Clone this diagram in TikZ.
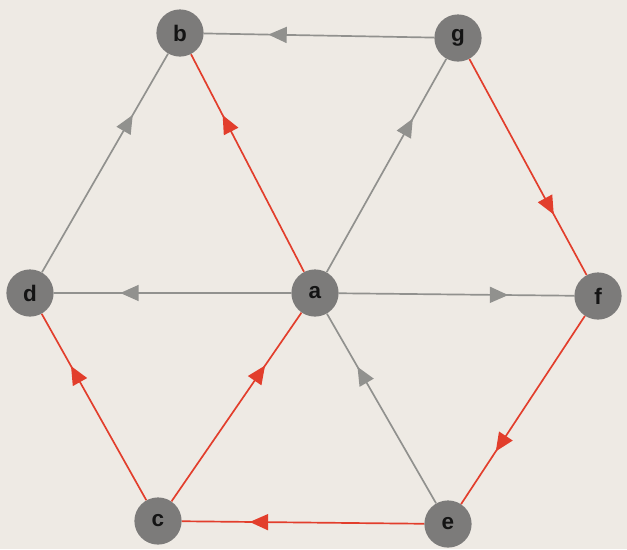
\documentclass[tikz,border=0pt]{standalone}
\usepackage{fontspec}
\setmainfont{Liberation Sans}
\usetikzlibrary{arrows.meta,decorations.markings}
\definecolor{bg}{RGB}{238,234,228}
\definecolor{nodegray}{RGB}{124,123,122}
\definecolor{edgegray}{RGB}{145,145,142}
\definecolor{edgered}{RGB}{226,62,44}
\definecolor{txt}{RGB}{20,20,20}
\tikzset{
  vtx/.style={circle, fill=nodegray, draw=none, minimum size=1.18cm, inner sep=0pt,
    font=\bfseries\fontsize{16}{16}\selectfont, text=txt},
  midarrow/.style={postaction={decorate}, decoration={markings,
    mark=at position 0.72 with {\arrow{Triangle[length=0.46cm,width=0.4cm]}}}},
  gedge/.style={draw=edgegray, line width=1.2pt, midarrow, color=edgegray},
  redge/.style={draw=edgered, line width=1.2pt, midarrow, color=edgered},
}
\begin{document}
\begin{tikzpicture}[x=0.025cm,y=-0.025cm]
\fill[bg] (0,0) rectangle (627,549);
\useasboundingbox (0,0) rectangle (627,549);
\node[vtx] (b) at (180,33) {b};
\node[vtx] (g) at (458,38) {g};
\node[vtx] (d) at (30,293) {d};
\node[vtx] (a) at (315,293) {a};
\node[vtx] (f) at (598,296) {f};
\node[vtx] (c) at (158,521) {c};
\node[vtx] (e) at (448,524) {e};
\draw[gedge] (g) -- (b);
\draw[gedge] (d) -- (b);
\draw[redge] (a) -- (b);
\draw[gedge] (a) -- (g);
\draw[redge] (g) -- (f);
\draw[gedge] (a) -- (d);
\draw[gedge] (a) -- (f);
\draw[redge] (f) -- (e);
\draw[gedge] (e) -- (a);
\draw[redge] (e) -- (c);
\draw[redge] (c) -- (a);
\draw[redge] (c) -- (d);
\end{tikzpicture}
\end{document}
